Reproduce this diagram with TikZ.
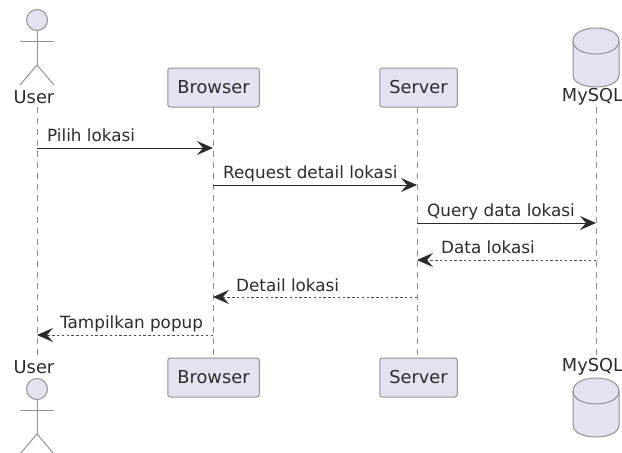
\documentclass[tikz,border=0pt]{standalone}
\usepackage{fontspec}
\setmainfont{DejaVu Sans}
\usetikzlibrary{arrows.meta}
\definecolor{pfill}{HTML}{E2E2F0}
\definecolor{pline}{HTML}{929298}
\definecolor{ink}{HTML}{2B2B2B}
\definecolor{dashc}{HTML}{4A4A4A}
\definecolor{lifec}{HTML}{909090}
\tikzset{
  pbox/.style={draw=pline,fill=pfill,line width=1pt,rounded corners=2.5pt,minimum height=39pt,inner sep=0pt,text=ink,font=\fontsize{17.8}{20}\selectfont},
  plabel/.style={text=ink,font=\fontsize{17.8}{20}\selectfont,inner sep=0pt},
  mlabel/.style={text=ink,font=\fontsize{16.8}{19}\selectfont,inner sep=0pt,anchor=base west},
  lifeline/.style={draw=lifec,line width=.9pt,dash pattern=on 5.5pt off 5.5pt},
  stick/.style={draw=pline,line width=1pt,fill=none},
  tip/.style={-{Stealth[length=16pt,width=14pt,inset=6pt,fill=ink,color=ink]}},
  msgsolid/.style={draw=ink,line width=1pt,tip},
  msgdash/.style={draw=dashc,line width=.9pt,dash pattern=on 2.4pt off 2.4pt,tip},
}
\newcommand{\actorfig}[2]{%
  \draw[stick,fill=pfill] (#1,#2) circle (10.5);
  \draw[stick] (#1,#2+10.5) -- (#1,#2+45);
  \draw[stick] (#1-17,#2+21) -- (#1+17,#2+21);
  \draw[stick] (#1-17,#2+65) -- (#1,#2+45) -- (#1+17,#2+65);
}
\newcommand{\dbfig}[2]{%
  \draw[stick,fill=pfill] (#1-23,#2+13)
    .. controls (#1-23,#2-4.3) and (#1+23,#2-4.3) .. (#1+23,#2+13)
    -- (#1+23,#2+47)
    .. controls (#1+23,#2+63) and (#1-23,#2+63) .. (#1-23,#2+47) -- cycle;
  \draw[stick] (#1-23,#2+13)
    .. controls (#1-23,#2+30.3) and (#1+23,#2+30.3) .. (#1+23,#2+13);
}
\begin{document}
\begin{tikzpicture}[x=1pt,y=-1pt]
\useasboundingbox (0,0) rectangle (622,453);
% lifelines
\coordinate (u1) at (37,107); \coordinate (u2) at (37,358);
\coordinate (m1) at (596,107); \coordinate (m2) at (596,358);
\coordinate (b1) at (213,107); \coordinate (b2) at (213,358);
\coordinate (s1) at (417,107); \coordinate (s2) at (417,358);
\draw[lifeline] (u1) -- (u2);
\draw[lifeline] (b1) -- (b2);
\draw[lifeline] (s1) -- (s2);
\draw[lifeline] (m1) -- (m2);
% participants
\actorfig{37}{20}
\actorfig{37}{389}
\dbfig{596}{28}
\dbfig{596}{378}
\node[plabel] (usertop) at (34,97) {User};
\node[plabel] (userbot) at (34,367) {User};
\node[plabel] (dbtop) at (592.5,97) {MySQL};
\node[plabel] (dbbot) at (592.5,367) {MySQL};
\node[pbox,minimum width=91.5pt] (browsertop) at (213.5,87.5) {Browser};
\node[pbox,minimum width=77.5pt] (servertop) at (418.5,87.5) {Server};
\node[pbox,minimum width=91.5pt] (browserbot) at (213.5,377.5) {Browser};
\node[pbox,minimum width=77.5pt] (serverbot) at (418.5,377.5) {Server};
% messages
\coordinate (a1) at (37,148); \coordinate (a1e) at (213,148);
\coordinate (a2) at (213,185); \coordinate (a2e) at (417,185);
\coordinate (a3) at (417,223); \coordinate (a3e) at (596,223);
\coordinate (a4) at (596,260); \coordinate (a4e) at (417,260);
\coordinate (a5) at (417,297); \coordinate (a5e) at (213,297);
\coordinate (a6) at (213,335); \coordinate (a6e) at (37,335);
\draw[msgsolid] (a1) -- (a1e);
\draw[msgsolid] (a2) -- (a2e);
\draw[msgsolid] (a3) -- (a3e);
\draw[msgdash] (a4) -- (a4e);
\draw[msgdash] (a5) -- (a5e);
\draw[msgdash] (a6) -- (a6e);
\node[mlabel] (t1) at (47,141) {Pilih lokasi};
\node[mlabel] (t2) at (223,178) {Request detail lokasi};
\node[mlabel] (t3) at (427,216) {Query data lokasi};
\node[mlabel] (t4) at (441,253) {Data lokasi};
\node[mlabel] (t5) at (236,291) {Detail lokasi};
\node[mlabel] (t6) at (60,328) {Tampilkan popup};
\end{tikzpicture}
\end{document}
